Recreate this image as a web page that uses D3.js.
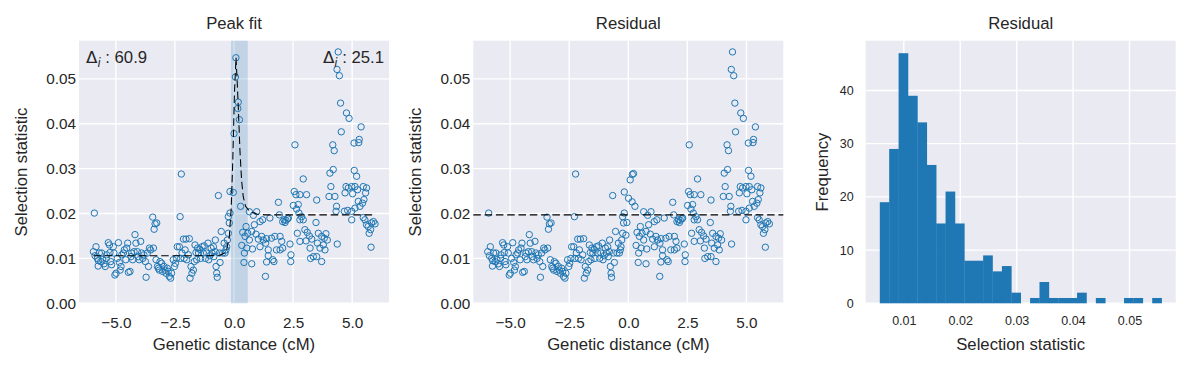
<!DOCTYPE html>
<html><head><meta charset="utf-8">
<script src="https://cdn.jsdelivr.net/npm/d3@7"></script>
<style>
body{margin:0;background:#fff}
svg{display:block}
text{font-family:"Liberation Sans",Arial,sans-serif;fill:#262626}
</style>
</head><body>
<svg id="chart" width="1191" height="368"></svg>
<script>
// ---------------- DATA ----------------
const titles = ["Peak fit", "Residual", "Residual"];
const xLabelScatter = "Genetic distance (cM)";
const yLabelScatter = "Selection statistic";
const xLabelHist = "Selection statistic";
const yLabelHist = "Frequency";

// scatter points shared by both scatter panels [genetic distance, selection statistic]
const basePoints = [
[-5.91,0.0201],[-5.95,0.0115],[-5.84,0.0126],[-5.88,0.0106],[-5.78,0.0100],[-5.70,0.0112],[-5.74,0.0095],[-5.75,0.0083],[-5.64,0.0093],[-5.60,0.0112],
[-5.56,0.0097],[-5.50,0.0088],[-5.45,0.0082],[-5.40,0.0100],[-5.39,0.0108],[-5.32,0.0135],[-5.27,0.0130],[-5.25,0.0113],[-5.22,0.0093],[-5.18,0.0086],
[-5.11,0.0126],[-5.08,0.0112],[-5.04,0.0063],[-4.99,0.0067],[-4.94,0.0100],[-4.89,0.0135],[-4.85,0.0091],[-4.82,0.0074],[-4.78,0.0082],[-4.75,0.0108],
[-4.68,0.0112],[-4.64,0.0119],[-4.58,0.0097],[-4.54,0.0123],[-4.50,0.0134],[-4.47,0.0069],[-4.40,0.0071],[-4.36,0.0104],[-4.33,0.0112],[-4.29,0.0097],
[-4.23,0.0115],[-4.19,0.0153],[-4.15,0.0134],[-4.09,0.0115],[-4.05,0.0104],[-4.01,0.0097],[-3.95,0.0138],[-3.91,0.0112],[-3.86,0.0100],[-3.81,0.0108],
[-3.75,0.0093],[-3.72,0.0058],[-3.67,0.0112],[-3.62,0.0082],[-3.58,0.0123],[-3.53,0.0119],[-3.44,0.0192],[-3.34,0.0177],[-3.27,0.0179],[-3.38,0.0165],
[-3.41,0.0123],[-3.30,0.0097],[-3.24,0.0082],[-3.20,0.0078],[-3.16,0.0074],[-3.13,0.0093],[-3.06,0.0089],[-3.02,0.0071],[-2.96,0.0082],[-2.92,0.0074],
[-2.88,0.0067],[-2.82,0.0078],[-2.78,0.0071],[-2.74,0.0060],[-2.68,0.0056],[-2.64,0.0067],[-2.57,0.0097],[-2.52,0.0082],[-2.48,0.0089],[-2.43,0.0100],
[-2.40,0.0126],[-2.31,0.0126],[-2.28,0.0193],[-2.23,0.0288],[-2.26,0.0100],[-2.20,0.0112],[-2.14,0.0143],[-2.11,0.0100],[-2.07,0.0119],[-2.03,0.0143],
[-2.00,0.0097],[-1.93,0.0108],[-1.89,0.0144],[-1.86,0.0056],[-1.82,0.0082],[-1.78,0.0067],[-1.72,0.0074],[-1.68,0.0093],[-1.65,0.0130],[-1.61,0.0113],
[-1.58,0.0097],[-1.54,0.0123],[-1.50,0.0112],[-1.44,0.0120],[-1.41,0.0100],[-1.35,0.0126],[-1.30,0.0112],[-1.26,0.0128],[-1.21,0.0100],[-1.16,0.0112],
[-1.10,0.0134],[-1.07,0.0097],[-1.02,0.0106],[-0.97,0.0123],[-0.93,0.0112],[-0.87,0.0126],[-0.85,0.0104],[-0.80,0.0115],[-0.76,0.0082],[-0.73,0.0067],
[-0.71,0.0058],[-0.79,0.0141],[-0.66,0.0240],[-0.62,0.0112],[-0.59,0.0091],[-0.54,0.0160],[-0.48,0.0112],[-0.42,0.0134],[-0.38,0.0112],[-0.34,0.0119],
[-0.31,0.0126],[-0.28,0.0141],[-0.24,0.0156],[-0.20,0.0179],[-0.24,0.0193],[-0.17,0.0201],
[0.28,0.0216],[0.65,0.0204],[0.96,0.0204],[0.82,0.0196],[0.51,0.0171],[0.37,0.0158],[0.58,0.0156],[0.75,0.0160],[0.86,0.0175],[0.47,0.0149],
[0.33,0.0129],[0.44,0.0112],[0.42,0.0091],[0.75,0.0088],[0.54,0.0123],[0.78,0.0121],[0.65,0.0141],[0.93,0.0154],[1.03,0.0143],[1.10,0.0182],
[1.21,0.0186],[1.17,0.0149],[1.10,0.0126],[1.24,0.0141],[1.34,0.0134],[1.38,0.0092],[1.33,0.0060],[1.38,0.0144],[1.52,0.0190],[1.59,0.0145],
[1.45,0.0119],[1.45,0.0106],[1.64,0.0097],[1.69,0.0093],[1.73,0.0149],[1.80,0.0119],[1.88,0.0225],[1.92,0.0197],[1.95,0.0149],[2.02,0.0138],
[2.06,0.0182],[2.12,0.0186],[2.16,0.0180],[2.20,0.0185],[2.27,0.0188],[2.30,0.0190],[1.95,0.0119],[2.06,0.0123],[2.37,0.0132],[2.41,0.0108],
[2.40,0.0093],[2.51,0.0218],[2.58,0.0353],[2.55,0.0249],[2.62,0.0242],[2.79,0.0242],[2.72,0.0220],[2.65,0.0210],[2.75,0.0201],[2.86,0.0193],
[2.93,0.0186],[2.79,0.0186],[2.68,0.0156],[2.79,0.0138],[3.00,0.0164],[3.10,0.0158],[3.19,0.0150],[3.05,0.0139],[3.29,0.0143],[3.22,0.0123],
[3.24,0.0100],[3.36,0.0104],[3.50,0.0104],[3.53,0.0134],[3.57,0.0156],[3.64,0.0123],[3.71,0.0149],[3.78,0.0130],[3.82,0.0145],[3.89,0.0155],
[3.95,0.0141],[3.85,0.0119],[3.71,0.0093],[2.93,0.0277],[3.07,0.0242],[3.50,0.0230],[3.47,0.0180],[4.18,0.0353],[4.24,0.0340],[4.20,0.0298],
[4.06,0.0290],[4.10,0.0260],[4.02,0.0238],[4.27,0.0238],[4.34,0.0216],[4.32,0.0205],[4.37,0.0132],[4.41,0.0560],[4.36,0.0521],[4.46,0.0507],
[4.51,0.0446],[4.76,0.0424],[4.87,0.0412],[4.54,0.0382],[4.74,0.0260],[4.84,0.0257],[4.70,0.0246],[4.98,0.0260],[5.02,0.0244],[4.67,0.0205],
[4.81,0.0207],[4.98,0.0205],[5.12,0.0212],[4.98,0.0186],[5.12,0.0260],[5.23,0.0253],[5.47,0.0260],[5.57,0.0246],[5.61,0.0257],[5.26,0.0227],
[5.33,0.0216],[5.44,0.0223],[5.50,0.0231],[5.38,0.0393],[5.08,0.0357],[5.28,0.0358],[5.30,0.0365],[5.09,0.0296],[5.19,0.0283],[5.47,0.0191],
[5.61,0.0175],[5.68,0.0171],[5.82,0.0179],[5.90,0.0182],[5.97,0.0177],[5.78,0.0164],[5.72,0.0156],[5.80,0.0125],[5.54,0.0186]
];
// points near the peak as shown in the "Peak fit" panel
const peakPoints = [[0.08,0.0547],[0.06,0.0504],[0.18,0.0448],[0.16,0.0434],[0.23,0.0409],[0.00,0.0378],[-0.17,0.0249],[-0.03,0.0247]];
// the same points after removing the fitted peak ("Residual" panel)
const residPeakPoints = [[0.08,0.0275],[0.17,0.0287],[0.22,0.0289],[0.01,0.0234],[0.16,0.0226],[-0.17,0.0248],[-0.06,0.0180],[-0.10,0.0152]];

// fitted peak curve (dashed)
const fitX = [-5.95,-3.10,-1.20,-0.60,-0.40,-0.30,-0.20,-0.12,-0.05,0.02,0.085,0.13,0.18,0.25,0.32,0.39,0.49,0.68,0.96,1.31,5.97];
const fitY = [0.0106,0.0106,0.0106,0.0107,0.0112,0.0122,0.0148,0.0210,0.0320,0.0470,0.0547,0.0500,0.0439,0.0342,0.0275,0.0238,0.0216,0.0204,0.0199,0.0197,0.0197];
// highlighted peak window
const peakWindow = [-0.13, 0.58];
// baseline of the residual
const residBaseline = 0.0197;
// annotations
const deltaLeft = "60.9", deltaRight = "25.1";

// histogram of residual values
const histRange = [0.00574, 0.0557];
const histCounts = [19,29,47,39,34,26,15,21,15,8,8,9,6,7,2,0,1,4,1,1,1,2,0,1,0,0,1,1,0,1];

// axes ticks and limits
const scatterXDomain = [-6.56, 6.56];
const scatterYDomain = [0, 0.0585];
const scatterXTicks = [-5, -2.5, 0, 2.5, 5];
const scatterYTicks = [0, 0.01, 0.02, 0.03, 0.04, 0.05];
const histXDomain = [0.00324, 0.0582];
const histYDomain = [0, 49.35];
const histXTicks = [0.01, 0.02, 0.03, 0.04, 0.05];
const histYTicks = [0, 10, 20, 30, 40];

// ---------------- DRAW ----------------
const svg = d3.select("#chart");
const BLUE = "#1f77b4", BG = "#eaeaf2";
const PT = 40.7, PB = 303.3, PW = 310;
const lefts = [79, 473.3, 865.7];
const DASH = "7.5,3.8", DASH_W = 1.05;

function frame(i, xs, ys, xT, yT, xFmt, yFmt, opt) {
  const g = svg.append("g");
  const L = lefts[i];
  g.append("rect").attr("x", L).attr("y", PT).attr("width", PW).attr("height", PB - PT).attr("fill", BG);
  const grid = g.append("g").attr("stroke", "#fff").attr("stroke-width", 1.4);
  grid.selectAll(".gx").data(xT).join("line")
    .attr("x1", d => xs(d)).attr("x2", d => xs(d)).attr("y1", PT).attr("y2", PB);
  grid.selectAll(".gy").data(yT).join("line")
    .attr("y1", d => ys(d)).attr("y2", d => ys(d)).attr("x1", L).attr("x2", L + PW);
  const ax = g.append("g").attr("transform", `translate(0,${PB})`)
    .call(d3.axisBottom(xs).tickValues(xT).tickSize(0).tickPadding(opt.xPad).tickFormat(xFmt));
  const ay = g.append("g").attr("transform", `translate(${L},0)`)
    .call(d3.axisLeft(ys).tickValues(yT).tickSize(0).tickPadding(opt.yPad).tickFormat(yFmt));
  [ax, ay].forEach(a => {
    a.select(".domain").remove();
    a.attr("font-family", null).attr("font-size", null);
    a.selectAll("text").style("font-size", opt.tickFs + "px").attr("fill", "#262626");
  });
  g.append("text").attr("x", L + PW / 2).attr("y", 29.3).attr("text-anchor", "middle")
    .style("font-size", "16.7px").text(titles[i]);
  g.append("text").attr("x", L + PW / 2).attr("y", 350).attr("text-anchor", "middle")
    .style("font-size", "16.7px").text(opt.xLabel);
  g.append("text").attr("transform", `translate(${opt.yLabelX},${(PT + PB) / 2}) rotate(-90)`)
    .attr("text-anchor", "middle").style("font-size", "16.7px").text(opt.yLabel);
  return g;
}

function scatterPanel(i) {
  const L = lefts[i];
  const xs = d3.scaleLinear().domain(scatterXDomain).range([L, L + PW]);
  const ys = d3.scaleLinear().domain(scatterYDomain).range([PB, PT]);
  const g = frame(i, xs, ys, scatterXTicks, scatterYTicks, d3.format(".1f"), d3.format(".2f"),
    {xPad: 14, yPad: 3, tickFs: 15.3, xLabel: xLabelScatter, yLabel: yLabelScatter, yLabelX: L - 52});
  return {g, xs, ys};
}

function deltaText(g, x, anchor, value) {
  const t = g.append("text").attr("x", x).attr("y", 63).attr("text-anchor", anchor).style("font-size", "16.7px");
  t.append("tspan").style("font-family", "DejaVu Sans").text("Δ");
  t.append("tspan").attr("dy", 4).style("font-size", "11.7px").style("font-style", "italic").style("font-family", "DejaVu Sans").text("i");
  t.append("tspan").attr("dy", -4).text(" : " + value);
}

// Panel 1: peak fit
{
  const {g, xs, ys} = scatterPanel(0);
  g.append("rect").attr("x", xs(peakWindow[0])).attr("width", xs(peakWindow[1]) - xs(peakWindow[0]))
    .attr("y", PT).attr("height", PB - PT).attr("fill", BLUE).attr("fill-opacity", 0.2);
  const pts = basePoints.concat(peakPoints);
  g.append("g").selectAll("circle").data(pts).join("circle")
    .attr("cx", d => xs(d[0])).attr("cy", d => ys(d[1])).attr("r", 3.2)
    .attr("fill", "none").attr("stroke", BLUE).attr("stroke-width", 1);
  const line = d3.line().x((d, k) => xs(fitX[k])).y((d, k) => ys(fitY[k]));
  g.append("path").attr("d", line(fitX)).attr("fill", "none").attr("stroke", "#000")
    .attr("stroke-width", DASH_W).attr("stroke-dasharray", DASH);
  deltaText(g, lefts[0] + 7, "start", deltaLeft);
  deltaText(g, lefts[0] + PW - 5, "end", deltaRight);
}

// Panel 2: residual scatter
{
  const {g, xs, ys} = scatterPanel(1);
  const pts = basePoints.concat(residPeakPoints);
  g.append("g").selectAll("circle").data(pts).join("circle")
    .attr("cx", d => xs(d[0])).attr("cy", d => ys(d[1])).attr("r", 3.2)
    .attr("fill", "none").attr("stroke", BLUE).attr("stroke-width", 1);
  g.append("line").attr("x1", lefts[1]).attr("x2", lefts[1] + PW)
    .attr("y1", ys(residBaseline)).attr("y2", ys(residBaseline))
    .attr("stroke", "#000").attr("stroke-width", DASH_W).attr("stroke-dasharray", DASH);
}

// Panel 3: histogram
{
  const L = lefts[2];
  const xs = d3.scaleLinear().domain(histXDomain).range([L, L + PW]);
  const ys = d3.scaleLinear().domain(histYDomain).range([PB, PT]);
  const g = frame(2, xs, ys, histXTicks, histYTicks, d3.format(".2f"), d3.format("d"),
    {xPad: 12.8, yPad: 12, tickFs: 12.5, xLabel: xLabelHist, yLabel: yLabelHist, yLabelX: L - 38});
  const n = histCounts.length;
  const w = (histRange[1] - histRange[0]) / n;
  const bins = histCounts.map((c, k) => ({x0: histRange[0] + k * w, x1: histRange[0] + (k + 1) * w, c}));
  g.append("g").selectAll("rect").data(bins.filter(b => b.c > 0)).join("rect")
    .attr("x", b => xs(b.x0)).attr("width", b => xs(b.x1) - xs(b.x0) + 0.3)
    .attr("y", b => ys(b.c)).attr("height", b => PB - ys(b.c)).attr("fill", BLUE);
}
</script>
</body></html>
